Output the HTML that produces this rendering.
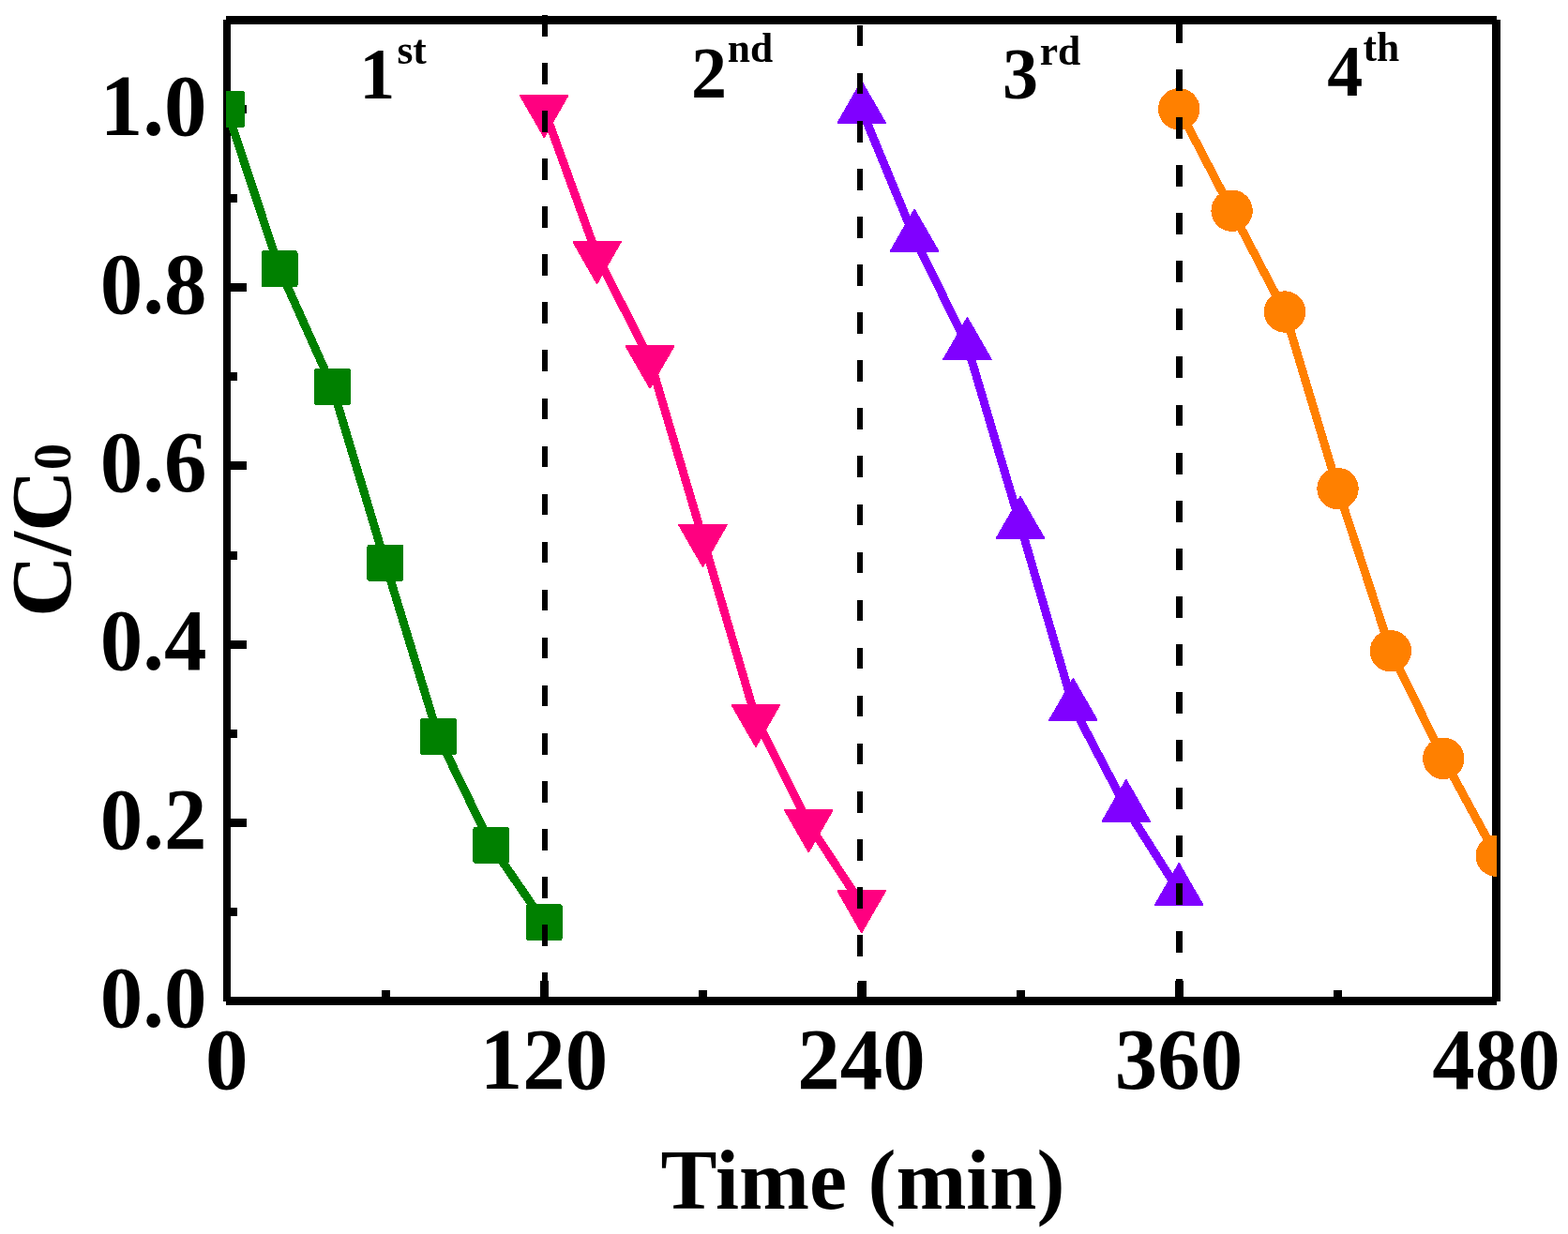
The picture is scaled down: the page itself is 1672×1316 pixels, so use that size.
<!DOCTYPE html>
<html lang="en"><head><meta charset="utf-8"><title>C/C0 vs Time</title>
<style>
html,body{margin:0;padding:0;background:#fff;}
body{width:1672px;height:1316px;overflow:hidden;}
svg{display:block;}
text{font-family:"Liberation Serif",serif;font-weight:bold;fill:#000;}
</style></head><body>
<svg width="1672" height="1316" viewBox="0 0 1672 1316">
<rect x="0" y="0" width="1672" height="1316" fill="#fff"/>
<defs><clipPath id="plot"><rect x="241" y="17" width="1355" height="1055"/></clipPath></defs>
<g fill="#000" shape-rendering="crispEdges">
<rect x="241" y="17" width="1355" height="9"/>
<rect x="241" y="1063" width="1355" height="9"/>
<rect x="238" y="21" width="8" height="1047"/>
<rect x="1591" y="21" width="9" height="1047"/>
<rect x="242" y="967.9" width="11" height="9"/>
<rect x="242" y="872.8" width="21" height="9"/>
<rect x="242" y="777.7" width="11" height="9"/>
<rect x="242" y="682.6" width="21" height="9"/>
<rect x="242" y="587.5" width="11" height="9"/>
<rect x="242" y="492.4" width="21" height="9"/>
<rect x="242" y="397.3" width="11" height="9"/>
<rect x="242" y="302.2" width="21" height="9"/>
<rect x="242" y="207.1" width="11" height="9"/>
<rect x="242" y="112.0" width="21" height="9"/>
<rect x="406.8" y="1056.0" width="9" height="11"/>
<rect x="576.0" y="1046.0" width="9" height="21"/>
<rect x="745.2" y="1056.0" width="9" height="11"/>
<rect x="914.5" y="1046.0" width="9" height="21"/>
<rect x="1083.8" y="1056.0" width="9" height="11"/>
<rect x="1253.0" y="1046.0" width="9" height="21"/>
<rect x="1422.2" y="1056.0" width="9" height="11"/>
</g>
<g clip-path="url(#plot)" shape-rendering="crispEdges">
<polyline fill="none" stroke="#008000" stroke-width="9" stroke-linejoin="round" points="241.7,116.5 298.1,286.8 354.5,412.6 410.9,600.3 467.4,785.4 523.8,901.4 580.2,983.6"/>
<rect x="222.2" y="97.0" width="39" height="39" rx="3" fill="#008000"/>
<rect x="278.6" y="267.3" width="39" height="39" rx="3" fill="#008000"/>
<rect x="335.0" y="393.1" width="39" height="39" rx="3" fill="#008000"/>
<rect x="391.4" y="580.8" width="39" height="39" rx="3" fill="#008000"/>
<rect x="447.9" y="765.9" width="39" height="39" rx="3" fill="#008000"/>
<rect x="504.3" y="881.9" width="39" height="39" rx="3" fill="#008000"/>
<rect x="560.7" y="964.1" width="39" height="39" rx="3" fill="#008000"/>
<polyline fill="none" stroke="#FF0080" stroke-width="9" stroke-linejoin="round" points="580.2,116.3 636.6,272.4 693.0,383.7 749.5,574.3 805.9,766.3 862.3,878.6 918.7,964.5"/>
<polygon fill="#FF0080" stroke="#FF0080" stroke-width="2" stroke-linejoin="round" points="555.0,101.9 605.4,101.9 580.2,145.9"/>
<polygon fill="#FF0080" stroke="#FF0080" stroke-width="2" stroke-linejoin="round" points="611.4,258.0 661.8,258.0 636.6,302.0"/>
<polygon fill="#FF0080" stroke="#FF0080" stroke-width="2" stroke-linejoin="round" points="667.8,369.3 718.2,369.3 693.0,413.3"/>
<polygon fill="#FF0080" stroke="#FF0080" stroke-width="2" stroke-linejoin="round" points="724.2,559.9 774.7,559.9 749.5,603.9"/>
<polygon fill="#FF0080" stroke="#FF0080" stroke-width="2" stroke-linejoin="round" points="780.7,751.9 831.1,751.9 805.9,795.9"/>
<polygon fill="#FF0080" stroke="#FF0080" stroke-width="2" stroke-linejoin="round" points="837.1,864.2 887.5,864.2 862.3,908.2"/>
<polygon fill="#FF0080" stroke="#FF0080" stroke-width="2" stroke-linejoin="round" points="893.5,950.1 943.9,950.1 918.7,994.1"/>
<polyline fill="none" stroke="#8000FF" stroke-width="9" stroke-linejoin="round" points="918.7,116.6 975.1,253.3 1031.5,368.7 1088.0,559.5 1144.4,753.6 1200.8,861.5 1257.2,950.6"/>
<polygon fill="#8000FF" stroke="#8000FF" stroke-width="2" stroke-linejoin="round" points="893.5,131.0 943.9,131.0 918.7,87.2"/>
<polygon fill="#8000FF" stroke="#8000FF" stroke-width="2" stroke-linejoin="round" points="949.9,267.7 1000.3,267.7 975.1,223.9"/>
<polygon fill="#8000FF" stroke="#8000FF" stroke-width="2" stroke-linejoin="round" points="1006.3,383.1 1056.7,383.1 1031.5,339.3"/>
<polygon fill="#8000FF" stroke="#8000FF" stroke-width="2" stroke-linejoin="round" points="1062.8,573.9 1113.2,573.9 1088.0,530.1"/>
<polygon fill="#8000FF" stroke="#8000FF" stroke-width="2" stroke-linejoin="round" points="1119.2,768.0 1169.6,768.0 1144.4,724.2"/>
<polygon fill="#8000FF" stroke="#8000FF" stroke-width="2" stroke-linejoin="round" points="1175.6,875.9 1226.0,875.9 1200.8,832.1"/>
<polygon fill="#8000FF" stroke="#8000FF" stroke-width="2" stroke-linejoin="round" points="1232.0,965.0 1282.4,965.0 1257.2,921.2"/>
<polyline fill="none" stroke="#FF8000" stroke-width="9" stroke-linejoin="round" points="1257.2,116.3 1313.6,224.7 1370.0,332.5 1426.5,521.1 1482.9,694.2 1539.3,808.9 1595.7,912.7"/>
<circle cx="1257.2" cy="116.3" r="22.2" fill="#FF8000"/>
<circle cx="1313.6" cy="224.7" r="22.2" fill="#FF8000"/>
<circle cx="1370.0" cy="332.5" r="22.2" fill="#FF8000"/>
<circle cx="1426.5" cy="521.1" r="22.2" fill="#FF8000"/>
<circle cx="1482.9" cy="694.2" r="22.2" fill="#FF8000"/>
<circle cx="1539.3" cy="808.9" r="22.2" fill="#FF8000"/>
<circle cx="1595.7" cy="912.7" r="22.2" fill="#FF8000"/>
</g>
<g fill="#000" shape-rendering="crispEdges">
<rect x="578" y="16.00" width="6" height="22.50"/>
<rect x="578" y="67.07" width="6" height="22.50"/>
<rect x="578" y="118.14" width="6" height="22.50"/>
<rect x="578" y="169.21" width="6" height="22.50"/>
<rect x="578" y="220.28" width="6" height="22.50"/>
<rect x="578" y="271.35" width="6" height="22.50"/>
<rect x="578" y="322.42" width="6" height="22.50"/>
<rect x="578" y="373.49" width="6" height="22.50"/>
<rect x="578" y="424.56" width="6" height="22.50"/>
<rect x="578" y="475.63" width="6" height="22.50"/>
<rect x="578" y="526.70" width="6" height="22.50"/>
<rect x="578" y="577.77" width="6" height="22.50"/>
<rect x="578" y="628.84" width="6" height="22.50"/>
<rect x="578" y="679.91" width="6" height="22.50"/>
<rect x="578" y="730.98" width="6" height="22.50"/>
<rect x="578" y="782.05" width="6" height="22.50"/>
<rect x="578" y="833.12" width="6" height="22.50"/>
<rect x="578" y="884.19" width="6" height="22.50"/>
<rect x="578" y="935.26" width="6" height="22.50"/>
<rect x="578" y="986.33" width="6" height="22.50"/>
<rect x="578" y="1037.40" width="6" height="22.50"/>
<rect x="914" y="26.80" width="6" height="22.60"/>
<rect x="914" y="77.87" width="6" height="22.60"/>
<rect x="914" y="128.94" width="6" height="22.60"/>
<rect x="914" y="180.01" width="6" height="22.60"/>
<rect x="914" y="231.08" width="6" height="22.60"/>
<rect x="914" y="282.15" width="6" height="22.60"/>
<rect x="914" y="333.22" width="6" height="22.60"/>
<rect x="914" y="384.29" width="6" height="22.60"/>
<rect x="914" y="435.36" width="6" height="22.60"/>
<rect x="914" y="486.43" width="6" height="22.60"/>
<rect x="914" y="537.50" width="6" height="22.60"/>
<rect x="914" y="588.57" width="6" height="22.60"/>
<rect x="914" y="639.64" width="6" height="22.60"/>
<rect x="914" y="690.71" width="6" height="22.60"/>
<rect x="914" y="741.78" width="6" height="22.60"/>
<rect x="914" y="792.85" width="6" height="22.60"/>
<rect x="914" y="843.92" width="6" height="22.60"/>
<rect x="914" y="894.99" width="6" height="22.60"/>
<rect x="914" y="946.06" width="6" height="22.60"/>
<rect x="914" y="997.13" width="6" height="22.60"/>
<rect x="914" y="1048.20" width="6" height="18.80"/>
<rect x="1254" y="23.00" width="7" height="22.90"/>
<rect x="1254" y="74.07" width="7" height="22.90"/>
<rect x="1254" y="125.14" width="7" height="22.90"/>
<rect x="1254" y="176.21" width="7" height="22.90"/>
<rect x="1254" y="227.28" width="7" height="22.90"/>
<rect x="1254" y="278.35" width="7" height="22.90"/>
<rect x="1254" y="329.42" width="7" height="22.90"/>
<rect x="1254" y="380.49" width="7" height="22.90"/>
<rect x="1254" y="431.56" width="7" height="22.90"/>
<rect x="1254" y="482.63" width="7" height="22.90"/>
<rect x="1254" y="533.70" width="7" height="22.90"/>
<rect x="1254" y="584.77" width="7" height="22.90"/>
<rect x="1254" y="635.84" width="7" height="22.90"/>
<rect x="1254" y="686.91" width="7" height="22.90"/>
<rect x="1254" y="737.98" width="7" height="22.90"/>
<rect x="1254" y="789.05" width="7" height="22.90"/>
<rect x="1254" y="840.12" width="7" height="22.90"/>
<rect x="1254" y="891.19" width="7" height="22.90"/>
<rect x="1254" y="942.26" width="7" height="22.90"/>
<rect x="1254" y="993.33" width="7" height="22.90"/>
<rect x="1254" y="1044.40" width="7" height="22.60"/>
</g>
<text transform="translate(220.6,1094.7) scale(1,1.027)" font-size="91" text-anchor="end">0.0</text>
<text transform="translate(220.6,904.5) scale(1,1.027)" font-size="91" text-anchor="end">0.2</text>
<text transform="translate(220.6,714.3) scale(1,1.027)" font-size="91" text-anchor="end">0.4</text>
<text transform="translate(220.6,524.1) scale(1,1.027)" font-size="91" text-anchor="end">0.6</text>
<text transform="translate(220.6,333.9) scale(1,1.027)" font-size="91" text-anchor="end">0.8</text>
<text transform="translate(220.6,143.7) scale(1,1.027)" font-size="91" text-anchor="end">1.0</text>
<text transform="translate(241.7,1160.7) scale(1,1.027)" font-size="91" text-anchor="middle">0</text>
<text transform="translate(580.0,1160.7) scale(1,1.027)" font-size="91" text-anchor="middle">120</text>
<text transform="translate(918.6,1160.7) scale(1,1.027)" font-size="91" text-anchor="middle">240</text>
<text transform="translate(1257.1,1160.7) scale(1,1.027)" font-size="91" text-anchor="middle">360</text>
<text transform="translate(1595.5,1160.7) scale(1,1.027)" font-size="91" text-anchor="middle">480</text>
<text x="920" y="1288.7" font-size="90" text-anchor="middle">Time (min)</text>
<text transform="translate(75,658) rotate(-90) scale(1.012,1)" font-size="90">C/C<tspan font-size="56">0</tspan></text>
<text transform="translate(383.3,104.7) scale(1,1.04)" font-size="76">1<tspan font-size="43.5" x="40.1" y="-35.3">st</tspan></text>
<text transform="translate(737.0,104.0) scale(1,1.04)" font-size="76">2<tspan font-size="43.5" x="38.8" y="-36.2">nd</tspan></text>
<text transform="translate(1069.0,105.3) scale(1,1.04)" font-size="76">3<tspan font-size="43.5" x="39.7" y="-35.3">rd</tspan></text>
<text transform="translate(1415.2,102.0) scale(1,1.04)" font-size="76">4<tspan font-size="43.5" x="38.3" y="-35.6">th</tspan></text>
</svg></body></html>
